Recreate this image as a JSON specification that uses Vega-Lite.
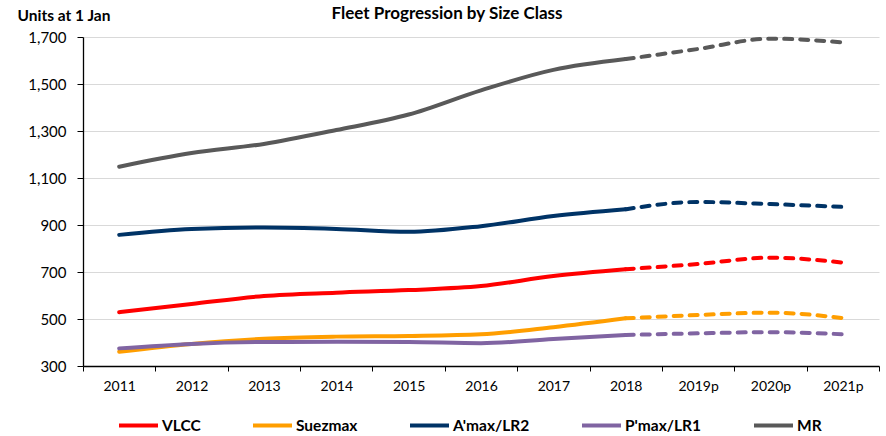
{
  "$schema": "https://vega.github.io/schema/vega-lite/v6.json",
  "autosize": {"type": "none"},
  "width": 796,
  "height": 329,
  "padding": {"left": 83, "top": 37, "right": 7, "bottom": 70},
  "background": "white",
  "config": {
    "font": "Lato",
    "view": {"stroke": null},
    "title": {"font": "Lato", "fontSize": 17, "fontWeight": "bold", "color": "#000000"}
  },
  "title": {"text": "Fleet Progression by Size Class", "anchor": "middle", "frame": "group", "dx": -34, "offset": -15},
  "data": {
    "values": [
      {"series": "VLCC", "year": "2011", "value": 529},
      {"series": "VLCC", "year": "2012", "value": 564},
      {"series": "VLCC", "year": "2013", "value": 598},
      {"series": "VLCC", "year": "2014", "value": 612},
      {"series": "VLCC", "year": "2015", "value": 623},
      {"series": "VLCC", "year": "2016", "value": 640},
      {"series": "VLCC", "year": "2017", "value": 683},
      {"series": "VLCC", "year": "2018", "value": 712},
      {"series": "VLCC", "year": "2019p", "value": 734},
      {"series": "VLCC", "year": "2020p", "value": 761},
      {"series": "VLCC", "year": "2021p", "value": 740},
      {"series": "Suezmax", "year": "2011", "value": 361},
      {"series": "Suezmax", "year": "2012", "value": 394},
      {"series": "Suezmax", "year": "2013", "value": 416},
      {"series": "Suezmax", "year": "2014", "value": 425},
      {"series": "Suezmax", "year": "2015", "value": 428},
      {"series": "Suezmax", "year": "2016", "value": 435},
      {"series": "Suezmax", "year": "2017", "value": 465},
      {"series": "Suezmax", "year": "2018", "value": 503},
      {"series": "Suezmax", "year": "2019p", "value": 517},
      {"series": "Suezmax", "year": "2020p", "value": 527},
      {"series": "Suezmax", "year": "2021p", "value": 504},
      {"series": "A'max/LR2", "year": "2011", "value": 858},
      {"series": "A'max/LR2", "year": "2012", "value": 883},
      {"series": "A'max/LR2", "year": "2013", "value": 889},
      {"series": "A'max/LR2", "year": "2014", "value": 883},
      {"series": "A'max/LR2", "year": "2015", "value": 871},
      {"series": "A'max/LR2", "year": "2016", "value": 895},
      {"series": "A'max/LR2", "year": "2017", "value": 938},
      {"series": "A'max/LR2", "year": "2018", "value": 967},
      {"series": "A'max/LR2", "year": "2019p", "value": 998},
      {"series": "A'max/LR2", "year": "2020p", "value": 989},
      {"series": "A'max/LR2", "year": "2021p", "value": 977},
      {"series": "P'max/LR1", "year": "2011", "value": 375},
      {"series": "P'max/LR1", "year": "2012", "value": 394},
      {"series": "P'max/LR1", "year": "2013", "value": 402},
      {"series": "P'max/LR1", "year": "2014", "value": 403},
      {"series": "P'max/LR1", "year": "2015", "value": 402},
      {"series": "P'max/LR1", "year": "2016", "value": 397},
      {"series": "P'max/LR1", "year": "2017", "value": 415},
      {"series": "P'max/LR1", "year": "2018", "value": 432},
      {"series": "P'max/LR1", "year": "2019p", "value": 439},
      {"series": "P'max/LR1", "year": "2020p", "value": 444},
      {"series": "P'max/LR1", "year": "2021p", "value": 435},
      {"series": "MR", "year": "2011", "value": 1148},
      {"series": "MR", "year": "2012", "value": 1206},
      {"series": "MR", "year": "2013", "value": 1245},
      {"series": "MR", "year": "2014", "value": 1304},
      {"series": "MR", "year": "2015", "value": 1370},
      {"series": "MR", "year": "2016", "value": 1473},
      {"series": "MR", "year": "2017", "value": 1560},
      {"series": "MR", "year": "2018", "value": 1606},
      {"series": "MR", "year": "2019p", "value": 1649},
      {"series": "MR", "year": "2020p", "value": 1693},
      {"series": "MR", "year": "2021p", "value": 1677}
    ]
  },
  "encoding": {
    "x": {
      "field": "year", "type": "ordinal",
      "sort": ["2011","2012","2013","2014","2015","2016","2017","2018","2019p","2020p","2021p"],
      "scale": {"type": "band", "paddingInner": 0, "paddingOuter": 0,
        "domain": ["2011","2012","2013","2014","2015","2016","2017","2018","2019p","2020p","2021p"]},
      "axis": {
        "title": null, "labelAngle": 0, "labelFontSize": 14, "labelColor": "#000000",
        "labelPadding": 8, "domainColor": "#000000", "domainWidth": 1.3,
        "tickColor": "#000000", "tickSize": 5, "tickBand": "extent", "grid": false
      }
    },
    "y": {
      "field": "value", "type": "quantitative",
      "scale": {"domain": [300, 1700], "nice": false, "zero": false},
      "axis": {
        "values": [300, 500, 700, 900, 1100, 1300, 1500, 1700], "format": ",d",
        "title": "Units at 1 Jan", "titleAngle": 0, "titleAlign": "left", "titleBaseline": "middle",
        "titleX": -66, "titleY": -22, "titleFont": "Lato", "titleFontSize": 15.5, "titleFontWeight": "bold",
        "titleColor": "#000000",
        "labelFontSize": 15, "labelColor": "#000000", "labelPadding": 11,
        "domainColor": "#000000", "domainWidth": 1.3, "tickColor": "#000000", "tickSize": 6,
        "grid": true, "gridColor": "#D9D9D9", "gridWidth": 1
      }
    },
    "color": {
      "field": "series", "type": "nominal",
      "scale": {
        "domain": ["VLCC", "Suezmax", "A'max/LR2", "P'max/LR1", "MR"],
        "range": ["#FF0000", "#FF9E00", "#003366", "#8064A2", "#595959"]
      }
    }
  },
  "layer": [
    {
      "transform": [{"filter": "indexof(datum.year, 'p') < 0"}],
      "mark": {"type": "line", "strokeWidth": 4, "strokeCap": "round", "interpolate": "monotone"},
      "encoding": {
        "color": {
          "field": "series", "type": "nominal",
          "legend": {
            "orient": "none", "direction": "horizontal", "legendX": 34, "legendY": 367,
            "title": null, "symbolType": "stroke", "symbolSize": 1521, "symbolStrokeWidth": 4,
            "labelFontSize": 15.5, "labelFontWeight": "bold", "labelColor": "#000000",
            "labelOffset": 2, "columnPadding": 44, "labelFont": "Lato"
          }
        }
      }
    },
    {
      "transform": [{"filter": "indexof(datum.year, 'p') >= 0 || datum.year == '2018'"}],
      "mark": {"type": "line", "strokeWidth": 4, "strokeCap": "round", "strokeDash": [8, 8], "interpolate": "monotone"},
      "encoding": {
        "color": {"field": "series", "type": "nominal", "legend": null}
      }
    }
  ]
}
